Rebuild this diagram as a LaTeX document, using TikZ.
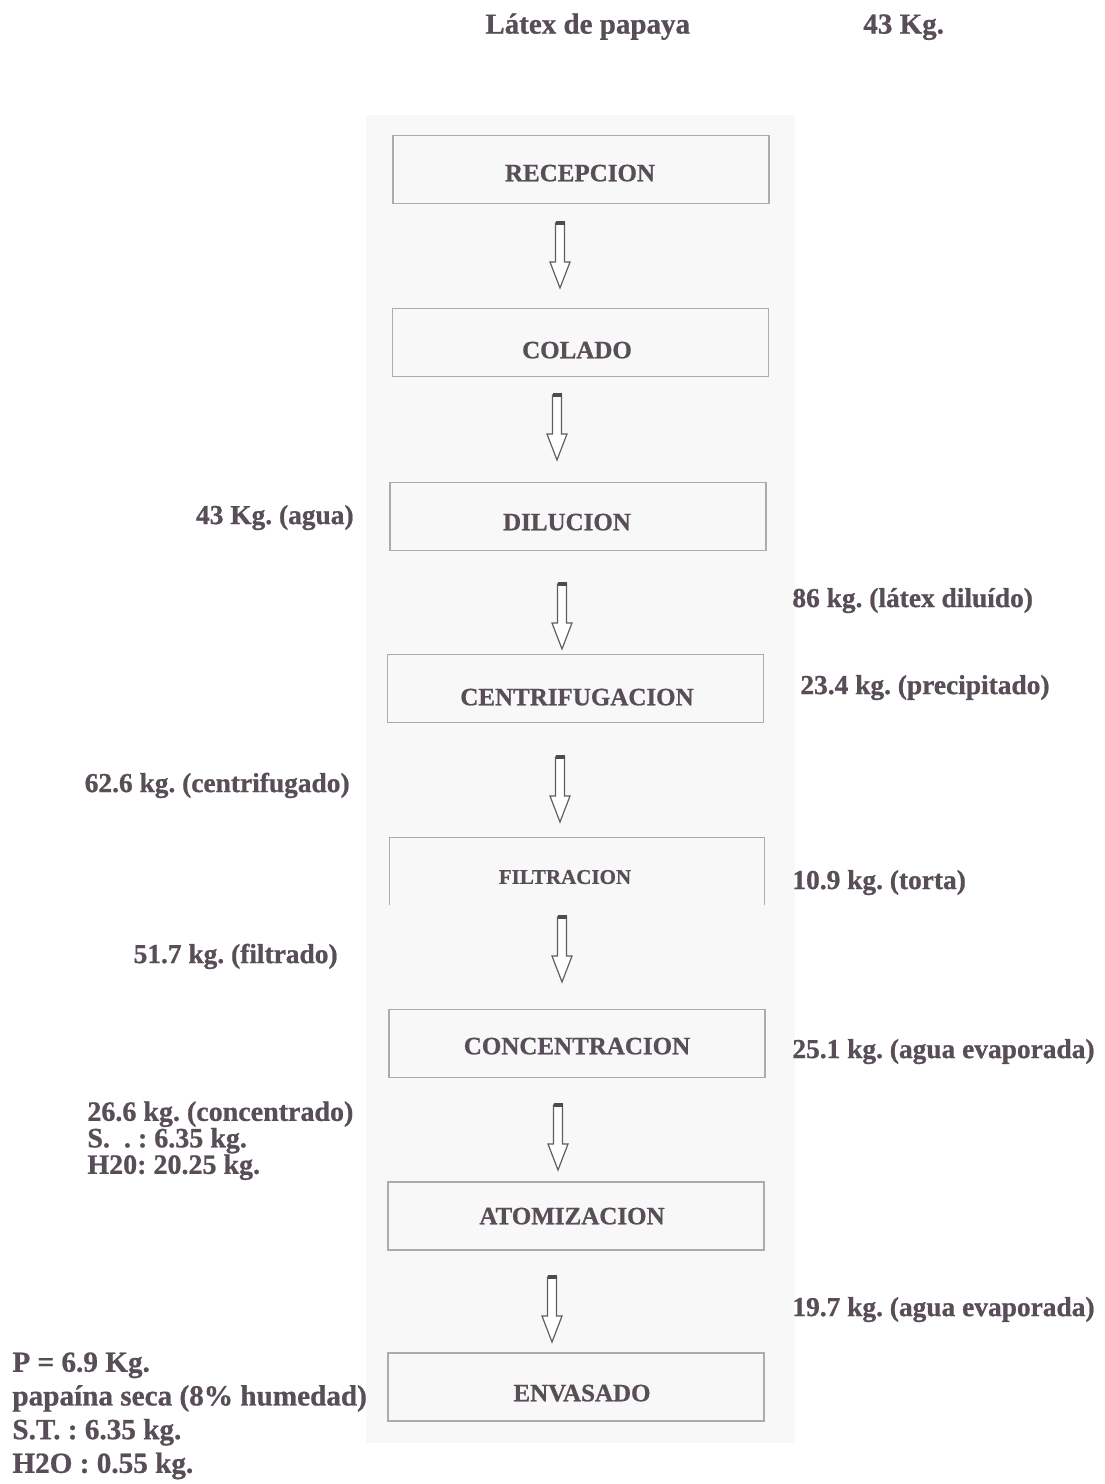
\documentclass[tikz,border=0pt]{standalone}
\usepackage{fontspec}
\setmainfont{Liberation Serif}[BoldFeatures={FakeBold=0.8}]
\definecolor{ink}{RGB}{88,78,88}
\definecolor{boxline}{RGB}{172,172,172}
\definecolor{strip}{RGB}{248,248,248}
\definecolor{arrowink}{RGB}{95,95,95}
\tikzset{
  lbl/.style={font=\bfseries\fontsize{13.7pt}{16pt}\selectfont, text=ink,
    inner sep=0pt, text height=9.05pt, text depth=0pt},
  headlbl/.style={lbl, font=\bfseries\fontsize{14.5pt}{17pt}\selectfont,
    text height=9.6pt},
  lblblock/.style={font=\bfseries\fontsize{14pt}{13.25pt}\selectfont, text=ink,
    inner sep=0pt, align=left, anchor=north west},
  stagebox/.style={draw=boxline, line width=0.75pt, inner sep=0pt,
    minimum width=188pt, minimum height=34pt},
  openbox/.style={inner sep=0pt, minimum width=187pt, minimum height=33.5pt},
  stagetext/.style={font=\bfseries\fontsize{12.5pt}{15pt}\selectfont, text=ink,
    inner sep=0pt, text height=8.25pt, text depth=0pt},
  smallstagetext/.style={font=\bfseries\fontsize{10.5pt}{12pt}\selectfont, text=ink,
    inner sep=0pt, text height=6.9pt, text depth=0pt},
  arrowline/.style={draw=arrowink, line width=0.6pt, fill=white, line join=miter},
  capline/.style={draw=arrowink!80!black, line width=1.6pt},
  hollowdown/.pic={
    \draw[arrowline] (-4.5,0) -- (-4.5,39) -- (-10,39) -- (0,65) -- (10,39)
      -- (4.5,39) -- (4.5,0) -- cycle;
    \draw[capline] (-4.5,0) -- (4.5,0);
  }
}
\begin{document}
\frenchspacing
\begin{tikzpicture}[x=0.5pt,y=-0.5pt]
\useasboundingbox (0,0) rectangle (1104,1484);
\fill[white] (0,0) rectangle (1104,1484);
% light panel behind the flow
\fill[strip] (366,115) rectangle (795,1443);

% header
\node[headlbl, anchor=west] (head) at (485,24) {Látex de papaya};
\node[headlbl, anchor=west] (headkg) at (863,24) {43 Kg.};

% process stages
\node[stagebox] (b1) at (581,169.5) {};
\node[stagetext] (t1) at (580,173) {RECEPCION};
\node[stagebox] (b2) at (580.5,342.5) {};
\node[stagetext] (t2) at (577,350) {COLADO};
\node[stagebox] (b3) at (578,516.5) {};
\node[stagetext] (t3) at (567,522) {DILUCION};
\node[stagebox] (b4) at (575.5,688.5) {};
\node[stagetext] (t4) at (577,697) {CENTRIFUGACION};
\node[openbox] (b5) at (577,871.5) {};
\draw[draw=boxline, line width=0.75pt] (b5.south west) -- (b5.north west)
  -- (b5.north east) -- (b5.south east);
\node[smallstagetext] (t5) at (565,877) {FILTRACION};
\node[stagebox] (b6) at (577,1043.5) {};
\node[stagetext] (t6) at (577,1046) {CONCENTRACION};
\node[stagebox] (b7) at (576,1216) {};
\node[stagetext] (t7) at (572,1216) {ATOMIZACION};
\node[stagebox] (b8) at (576,1387) {};
\node[stagetext] (t8) at (582,1393) {ENVASADO};

% hollow arrows between stages
\coordinate (a1) at (560,223);
\coordinate (a2) at (557,395);
\coordinate (a3) at (562,584);
\coordinate (a4) at (560,757);
\coordinate (a5) at (562,917);
\coordinate (a6) at (558,1105);
\coordinate (a7) at (552,1277);
\foreach \a in {a1,a2,a3,a4,a5,a6,a7}{ \pic at (\a) {hollowdown}; }

% mass balance figures
\node[lbl, anchor=east] (agua) at (354,515) {43 Kg. (agua)};
\node[lbl, anchor=west] (diluido) at (792,598) {86 kg. (látex diluído)};
\node[lbl, anchor=west] (precip) at (800,685) {23.4 kg. (precipitado)};
\node[lbl, anchor=east] (centrif) at (350,783) {62.6 kg. (centrifugado)};
\node[lbl, anchor=west] (torta) at (792,880) {10.9 kg. (torta)};
\node[lbl, anchor=east] (filtrado) at (338,954) {51.7 kg. (filtrado)};
\node[lbl, anchor=west] (evap1) at (792,1049) {25.1 kg. (agua evaporada)};
\node[lblblock] (conc) at (87,1101) {26.6 kg. (concentrado)\\ S.\ \ . : 6.35 kg.\\ H20: 20.25 kg.};
\node[lbl, anchor=west] (evap2) at (792,1307) {19.7 kg. (agua evaporada)};
\node[lblblock, font=\bfseries\fontsize{14.6pt}{16.85pt}\selectfont] (prod) at (12,1352)
  {P = 6.9 Kg.\\ papaína seca (8\% humedad)\\ S.T. : 6.35 kg.\\ H2O : 0.55 kg.};
\end{tikzpicture}
\end{document}
